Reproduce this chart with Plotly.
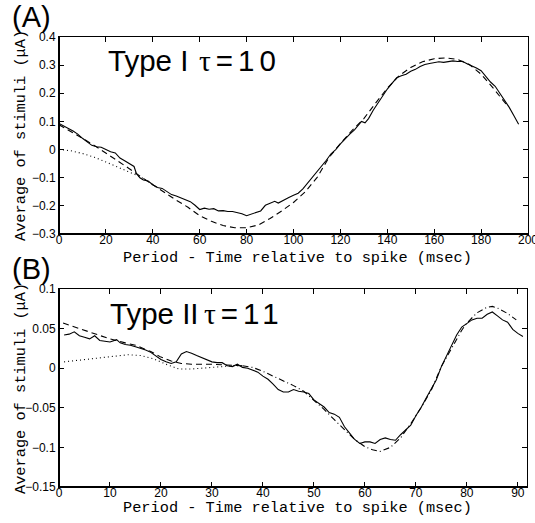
import plotly.graph_objects as go

W, H = 535, 523

# ---------------- Panel A data ----------------
a_solid_t = [0, 2, 4, 6, 8, 10, 12, 14, 16, 18, 20, 22, 24, 26, 28, 30, 32, 33, 34.5, 36, 38, 40,
             42, 44, 46, 48, 50, 52, 54, 56, 58, 60, 62, 64, 66, 68, 70, 72, 74, 76, 78, 80, 82,
             84, 86, 88, 90, 92, 93.5, 96, 98, 100, 102, 104, 106, 108, 110, 112, 114, 116, 118,
             120, 122, 124, 126, 128, 129, 130.5, 132, 134, 136, 138, 140, 142, 144, 146, 148,
             150, 152, 154, 156, 158, 160, 162, 164, 166, 168, 170, 172, 174, 176, 178, 180, 182,
             184, 186, 188, 190, 192, 194, 196]
a_solid_v = [0.093, 0.085, 0.075, 0.066, 0.055, 0.040, 0.028, 0.015, 0.010, 0.008, 0.000, -0.008,
             -0.012, -0.030, -0.040, -0.050, -0.060, -0.085, -0.100, -0.108, -0.112, -0.125,
             -0.135, -0.138, -0.150, -0.160, -0.165, -0.172, -0.178, -0.185, -0.198, -0.213,
             -0.208, -0.212, -0.210, -0.218, -0.217, -0.220, -0.220, -0.224, -0.228, -0.235,
             -0.230, -0.225, -0.218, -0.198, -0.190, -0.184, -0.190, -0.178, -0.170, -0.162,
             -0.155, -0.140, -0.120, -0.100, -0.082, -0.060, -0.038, -0.015, 0.000, 0.020, 0.038,
             0.055, 0.070, 0.090, 0.100, 0.095, 0.110, 0.140, 0.165, 0.190, 0.215, 0.235, 0.255,
             0.262, 0.268, 0.278, 0.285, 0.295, 0.302, 0.306, 0.310, 0.312, 0.310, 0.312, 0.315,
             0.313, 0.314, 0.305, 0.298, 0.290, 0.280, 0.258, 0.240, 0.225, 0.200, 0.178, 0.150,
             0.120, 0.090]

a_dash_t = [0, 5, 10, 15, 20, 25, 30, 35, 40, 45, 50, 55, 60, 65, 70, 75, 80, 85, 90, 95, 100,
            105, 110, 115, 120, 125, 130, 135, 140, 145, 150, 155, 160, 165, 170, 175, 180, 185,
            190, 191]
a_dash_v = [0.088, 0.065, 0.040, 0.015, -0.012, -0.040, -0.068, -0.097, -0.125, -0.152, -0.180,
            -0.205, -0.235, -0.255, -0.270, -0.278, -0.278, -0.268, -0.245, -0.218, -0.188,
            -0.150, -0.100, -0.030, 0.022, 0.068, 0.110, 0.165, 0.218, 0.262, 0.292, 0.312,
            0.323, 0.326, 0.320, 0.302, 0.268, 0.220, 0.167, 0.158]

a_dot_t = [0, 5, 10, 15, 20, 25, 30, 35, 40]
a_dot_v = [0.000, -0.004, -0.014, -0.027, -0.044, -0.062, -0.080, -0.098, -0.125]

a_xticks = [0, 20, 40, 60, 80, 100, 120, 140, 160, 180, 200]
a_yticks = [0.4, 0.3, 0.2, 0.1, 0, -0.1, -0.2, -0.3]
a_yticktext = ["0.4", "0.3", "0.2", "0.1", "0", "\u22120.1", "\u22120.2", "\u22120.3"]

# ---------------- Panel B data ----------------
b_solid_t = [1, 2, 3, 4, 5, 6, 7, 8, 9, 10, 11.3, 12, 13, 14, 15, 16, 17, 18, 19, 20, 21, 22, 23,
             24, 25, 26, 27, 28, 29, 30, 31, 32, 33, 34, 35, 36, 37, 38, 39, 40, 41, 42, 43, 44,
             45, 46, 47, 48, 49, 50, 51, 52, 53, 54, 55, 56, 57, 58, 59, 60, 61, 62, 63, 64, 65,
             66, 67, 68, 69, 70, 71, 72, 73, 74, 75, 76, 77, 78, 79, 80, 81, 82, 83, 84, 85, 86,
             87, 88, 89, 90, 91]
b_solid_v = [0.042, 0.043, 0.046, 0.041, 0.039, 0.037, 0.041, 0.035, 0.034, 0.033, 0.036, 0.032,
             0.030, 0.029, 0.027, 0.025, 0.023, 0.020, 0.015, 0.011, 0.008, 0.006, 0.008, 0.018,
             0.021, 0.019, 0.016, 0.013, 0.010, 0.008, 0.007, 0.007, 0.003, 0.002, 0.005, 0.001,
             0.000, -0.003, -0.005, -0.010, -0.014, -0.020, -0.027, -0.030, -0.030, -0.027,
             -0.029, -0.030, -0.032, -0.040, -0.044, -0.049, -0.056, -0.058, -0.062, -0.074,
             -0.082, -0.090, -0.095, -0.093, -0.093, -0.095, -0.090, -0.088, -0.090, -0.091,
             -0.084, -0.078, -0.072, -0.060, -0.050, -0.038, -0.027, -0.015, 0.002, 0.016, 0.029,
             0.042, 0.052, 0.057, 0.061, 0.063, 0.063, 0.068, 0.071, 0.066, 0.061, 0.058, 0.049,
             0.044, 0.040]

b_dash_t = [0.8, 3, 5, 8, 10, 13, 15, 18, 20, 22, 24, 26, 30, 33, 36]
b_dash_v = [0.057, 0.052, 0.048, 0.041, 0.037, 0.032, 0.029, 0.021, 0.014, 0.009, 0.006, 0.005,
            0.005, 0.004, 0.003]

b_dashdot_t = [36, 38, 40, 42, 44, 46, 48, 50, 52, 54, 56, 58, 60, 61.5, 63, 65, 67, 69, 71, 73,
               75, 77, 79, 80, 82, 84, 85, 86, 88, 89.7]
b_dashdot_v = [0.003, 0.001, -0.004, -0.010, -0.015, -0.022, -0.029, -0.040, -0.052, -0.065,
               -0.078, -0.090, -0.099, -0.103, -0.105, -0.100, -0.088, -0.070, -0.050, -0.028,
               0.002, 0.025, 0.048, 0.057, 0.070, 0.077, 0.078, 0.076, 0.069, 0.061]

b_dot_t = [1, 4, 8, 11, 13.5, 16, 18.5, 21, 23.5, 26, 28, 31, 34, 36]
b_dot_v = [0.008, 0.010, 0.013, 0.015, 0.017, 0.016, 0.012, 0.005, -0.001, -0.001, 0.000, 0.002,
           0.003, 0.003]

b_xticks = [0, 10, 20, 30, 40, 50, 60, 70, 80, 90]
b_yticks = [0.1, 0.05, 0, -0.05, -0.1, -0.15]
b_yticktext = ["0.1", "0.05", "0", "\u22120.05", "\u22120.1", "\u22120.15"]

x_title = "Period - Time relative to spike (msec)"
y_title = "Average of stimuli (\u03bcA)"
a_type, a_tau = "Type I", "\u03c4=10"
b_type, b_tau = "Type II", "\u03c4=11"

mono = "Liberation Mono, Courier New, monospace"
sans = "Liberation Sans, Arial, Helvetica, sans-serif"
serif = "Liberation Serif, Times New Roman, serif"

fig = go.Figure()

def line(x, y, dash, xa, ya, width=1.1):
    fig.add_trace(go.Scatter(x=x, y=y, mode="lines", xaxis=xa, yaxis=ya,
                             line=dict(color="black", width=width, dash=dash),
                             showlegend=False, hoverinfo="skip"))

line(a_dot_t, a_dot_v, "1px,3px", "x", "y")
line(a_dash_t, a_dash_v, "6px,4px", "x", "y")
line(a_solid_t, a_solid_v, "solid", "x", "y")

line(b_dot_t, b_dot_v, "1px,3px", "x2", "y2")
line(b_dash_t, b_dash_v, "6px,4px", "x2", "y2")
line(b_dashdot_t, b_dashdot_v, "6px,3px,1px,3px", "x2", "y2")
line(b_solid_t, b_solid_v, "solid", "x2", "y2")

xdom = [59 / W, 528 / W]
ya_dom = [1 - 234 / H, 1 - 37 / H]
yb_dom = [1 - 487 / H, 1 - 289 / H]

axcommon = dict(showgrid=False, zeroline=False, showline=True, linecolor="black",
                linewidth=1, mirror="ticks", ticks="inside", ticklen=5, tickcolor="black",
                tickwidth=1, automargin=False,
                tickfont=dict(family=sans, size=12, color="black"))

fig.update_layout(
    width=W, height=H, margin=dict(l=0, r=0, t=0, b=0),
    paper_bgcolor="white", plot_bgcolor="white",
    xaxis=dict(domain=xdom, range=[0, 200], anchor="y", tickvals=a_xticks,
               ticktext=[str(v) for v in a_xticks], ticklabelstandoff=-5,
               ticklabeloverflow="allow", **axcommon),
    yaxis=dict(domain=ya_dom, range=[-0.3, 0.4], anchor="x", tickvals=a_yticks,
               ticktext=a_yticktext, **axcommon),
    xaxis2=dict(domain=[59 / W, 527 / W], range=[0, 91.8], anchor="y2", tickvals=b_xticks,
                ticktext=[str(v) for v in b_xticks], ticklabelstandoff=-5,
                ticklabeloverflow="allow", **axcommon),
    yaxis2=dict(domain=yb_dom, range=[-0.15, 0.1], anchor="x2", tickvals=b_yticks,
                ticktext=b_yticktext, **axcommon),
)

# thicker left and bottom frame lines
for xr, yr in (("x domain", "y domain"), ("x2 domain", "y2 domain")):
    fig.add_shape(type="line", xref=xr, yref=yr, x0=0, x1=1, y0=0, y1=0,
                  line=dict(color="black", width=2))
    fig.add_shape(type="line", xref=xr, yref=yr, x0=0, x1=0, y0=0, y1=1,
                  line=dict(color="black", width=2))

def ann(text, xpx, ypx, size, family, xanchor="center", angle=0):
    fig.add_annotation(text=text, x=xpx / W, y=1 - ypx / H, xref="paper", yref="paper",
                       xanchor=xanchor, yanchor="middle", showarrow=False, textangle=angle,
                       font=dict(family=family, size=size, color="black"))

ann("(A)", 31, 17, 29, sans)
ann("(B)", 31, 269, 29, sans)
ann(x_title, 297, 258, 15.3, mono)
ann(x_title, 297, 508, 15.3, mono)
ann(y_title, 21, 136, 15.3, mono, angle=-90)
ann(y_title, 21, 389, 15.3, mono, angle=-90)

def tau_text(s):
    return ("<span style='font-family:" + serif + ";letter-spacing:5px'>" + s[0] + "</span>"
            "<span style='letter-spacing:5px'>" + s[1:] + "</span>")

ann(a_type, 106, 61, 29.5, sans, xanchor="left")
ann(tau_text(a_tau), 197, 61, 29.5, sans, xanchor="left")
ann(b_type, 108, 313, 29.5, sans, xanchor="left")
ann(tau_text(b_tau), 202, 313, 29.5, sans, xanchor="left")

fig.write_html(
    "out.html",
    config={"displayModeBar": False},
    post_script="document.body.style.margin='0';document.body.style.overflow='hidden';",
)
